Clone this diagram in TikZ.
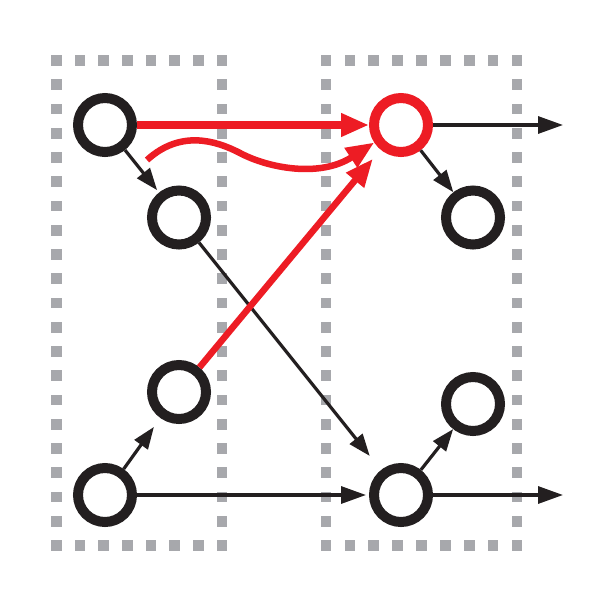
\documentclass[tikz,border=0pt]{standalone}
\usetikzlibrary{arrows.meta}
\definecolor{dotgray}{RGB}{167,168,172}
\definecolor{myred}{RGB}{237,28,36}
\definecolor{myblack}{RGB}{35,31,32}
\begin{document}
\begin{tikzpicture}[x=1pt,y=-1pt,
  ring/.style={circle,draw=myblack,line width=10pt,minimum size=54pt,inner sep=0pt,fill=white},
  redring/.style={ring,draw=myred},
  blk/.style={draw=myblack,line width=3.2pt,-{Triangle[length=22pt,width=16pt]}},
  blkL/.style={draw=myblack,line width=3.2pt,-{Triangle[length=25pt,width=17pt]}},
  redarr/.style={draw=myred,line width=6.5pt,-{Triangle[length=28pt,width=22pt]}},
  sq/.style={fill=dotgray}
]
\useasboundingbox[fill=white] (0,0) rectangle (600,600);
% left dotted box
\foreach \i in {0,...,7}{
  \fill[sq] ({56.5+\i*23.643},60.5) ++(-5.35,-5.35) rectangle ++(10.7,10.7);
  \fill[sq] ({56.5+\i*23.643},545.5) ++(-5.35,-5.35) rectangle ++(10.7,10.7);
}
\foreach \j in {0,...,20}{
  \fill[sq] (56.5,{60.5+\j*24.25}) ++(-5.35,-5.35) rectangle ++(10.7,10.7);
  \fill[sq] (222,{60.5+\j*24.25}) ++(-5.35,-5.35) rectangle ++(10.7,10.7);
}
% right dotted box
\foreach \i in {0,...,8}{
  \fill[sq] ({326+\i*23.875},60.5) ++(-5.35,-5.35) rectangle ++(10.7,10.7);
  \fill[sq] ({326+\i*23.875},545.5) ++(-5.35,-5.35) rectangle ++(10.7,10.7);
}
\foreach \j in {0,...,20}{
  \fill[sq] (326,{60.5+\j*24.25}) ++(-5.35,-5.35) rectangle ++(10.7,10.7);
  \fill[sq] (517,{60.5+\j*24.25}) ++(-5.35,-5.35) rectangle ++(10.7,10.7);
}
% nodes
\node[ring] (A) at (105,125) {};
\node[ring] (B) at (179,217.5) {};
\node[ring] (C) at (179,392) {};
\node[ring] (D) at (105,495) {};
\node[redring] (E) at (401,125) {};
\node[ring] (F) at (473,217.5) {};
\node[ring] (G) at (473,404) {};
\node[ring] (H) at (401,495) {};
\coordinate (Eout) at (563,125);
\coordinate (Hout) at (563,495);
\coordinate (cs) at (147,160);
% black connectors
\draw[blk, shorten >=3pt] (A) -- (B);
\draw[blk, shorten >=18pt] (B) -- (H);
\draw[blk, shorten >=11pt] (D) -- (C);
\draw[blkL, shorten >=3pt] (D) -- (H);
\draw[blk] (H) -- (G);
\draw[blk] (E) -- (F);
\draw[blkL] (E) -- (Eout);
\draw[blkL] (H) -- (Hout);
% red connectors
\draw[redarr, line width=7.5pt] (A) -- (E);
\draw[redarr, shorten >=12pt] (C) -- (E);
\draw[redarr] (cs) .. controls (180,130) and (215,140) .. (240,153)
  .. controls (268,168) and (320,178) .. (E);
\end{tikzpicture}
\end{document}
